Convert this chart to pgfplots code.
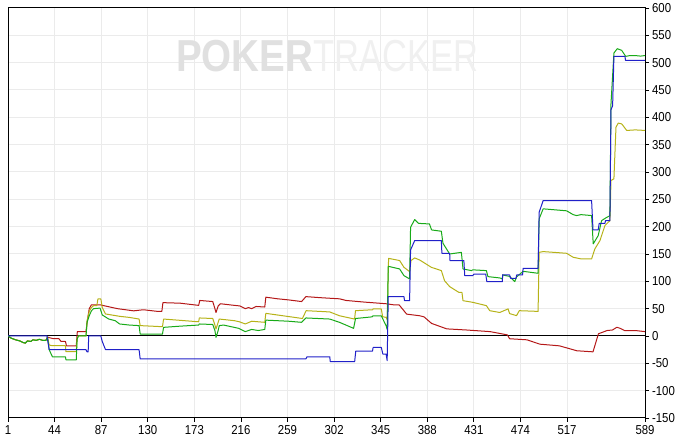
\documentclass[border=0pt]{standalone}
\usepackage{fontspec}
\setmainfont{Liberation Sans}
\usepackage{pgfplots}
\pgfplotsset{compat=1.18}
\usetikzlibrary{calc}
\definecolor{cred}{RGB}{180,24,24}
\definecolor{cblue}{RGB}{32,32,200}
\definecolor{cgreen}{RGB}{24,170,24}
\definecolor{colive}{RGB}{182,178,24}
\begin{document}
\begin{tikzpicture}
\begin{axis}[
  scale only axis, width=637bp, height=410bp,
  xmin=1, xmax=589, ymin=-150, ymax=600,
  xtick={1,44,87,130,173,216,259,302,345,388,431,474,517,589},
  ytick={-150,-100,...,600},
  ytick pos=right, yticklabel pos=right, xtick pos=bottom,
  tick align=outside, major tick length=4bp,
  grid=major, grid style={draw=black!8, line width=1bp},
  axis line style={line width=1bp, black},
  tick style={black, line width=0.8bp},
  tick label style={font=\fontsize{13}{13}\selectfont, xscale=0.88},
  /pgf/number format/assume math mode=true,
  /pgf/number format/1000 sep={},
  every axis plot/.append style={line width=1bp, line join=round, mark=none},
  extra y ticks={0}, extra y tick labels={},
  extra y tick style={grid=major, grid style={black, line width=1bp}, major tick length=0pt},
]
\node[text=black!12, font=\bfseries\fontsize{45}{45}\selectfont, xscale=0.86, anchor=base east, inner sep=0pt] at (axis cs:283,484) {POKER};
\node[text=black!6, font=\fontsize{45}{45}\selectfont, xscale=0.77, anchor=base west, inner sep=0pt] at (axis cs:283,484) {TRACKER};
% red
\addplot[cred] coordinates {(1,0) (4,-4) (8,-7) (12,-9) (15,-12) (17,-13) (19,-9) (22,-10) (24,-7) (27,-8) (30,-6) (33,-8) (36,-8) (37.5,-2) (39,-3) (43,-5) (48,-5) (50,-10) (54,-10) (55,-18) (64,-18) (65,8) (73,8) (74,25) (76,50) (78,57) (86,57) (102,50) (117,46) (126,48) (139,45) (143,45) (144,61) (160,60) (177,56) (178,65) (190,63) (192,50) (193,43) (195,55) (197,59) (210,56) (215,55) (220,50) (223,52) (226,50) (230,54) (238,53) (239,71) (250,68) (260,66) (272,63) (276,72) (290,70) (307,68) (313,65) (330,62) (350,59) (357,57) (362,57) (369,40) (381,37) (385,35) (392,23) (406,13) (424,11) (446,8) (462,2) (464,-5) (480,-7) (492,-15) (510,-18) (526,-27) (541,-29) (546,4) (554,10) (559,11) (563,16) (566,14) (570,10) (580,10) (589,8)};
% olive
\addplot[colive] coordinates {(1,0) (4,-4) (8,-7) (12,-9) (15,-12) (17,-13) (19,-9) (22,-10) (24,-7) (27,-8) (30,-6) (33,-8) (36,-8) (37.5,-2) (39,-16.5) (42,-17.8) (54,-17.8) (54.5,-28.8) (64,-28.8) (64.8,-5) (66,0) (73,0) (74,28) (76,45) (78,52) (80,55.5) (83,55.5) (84,67.8) (86.7,67.8) (88,52) (91,40.3) (104,36) (113,34) (122,31) (123,19) (143.6,17) (144.6,31) (177,26) (177.6,33) (190,32) (192,20) (193,12.8) (195,25) (196,31) (210,28) (214.6,26) (220,22) (226,27) (238,25) (239,41.4) (272.8,32) (276.2,46.3) (298,44) (307,37) (320.9,31) (321.8,46.3) (337.5,48) (338,49.5) (345.6,49.5) (346.8,35.3) (350,34) (351,30) (352.3,142) (362.5,138) (366.5,125.6) (371.7,117.8) (373,138) (376.4,142.8) (381,139) (391.8,125.6) (401,119.6) (404,101) (408.7,90.3) (417,80) (420,80) (421,64.6) (430.2,61.5) (442.6,55.5) (445.7,46.3) (454.9,43) (462.6,49.5) (464,41) (470.4,37.2) (473,46.3) (490.3,45) (491.3,153) (495,154.4) (516.6,151.3) (522.7,144) (530,141) (539.7,141) (542.7,159.3) (547.4,174.5) (552,202) (556.6,211) (557.6,284.4) (560.3,287.6) (562.2,382) (564.3,389.4) (567.5,388) (572.1,376) (580,377) (589,376)};
% green
\addplot[cgreen] coordinates {(1,0) (4,-4) (8,-7) (12,-9) (15,-12) (17,-13) (19,-9) (22,-10) (24,-7) (27,-8) (30,-6) (33,-8) (36,-8) (37.5,-2) (39,-25) (42,-38) (54,-38) (54.5,-43.6) (64,-43.6) (64.8,-5.5) (66,0) (73,0) (74,25) (76,37) (78,46) (80,50) (86,51) (88,38.5) (94,31) (100,28) (104,22) (113,20) (122,19) (123,3.6) (143.6,3.6) (144.6,15.8) (160,18) (177,20) (177.6,22) (190,21) (192,10) (193,-2.5) (195,10) (196,19) (200,20) (214,14) (220,8) (226,12) (232,10) (238,12) (239,29) (260,27) (272,25) (276,33) (298,31) (307,25) (320,14) (321.8,32) (337,35) (338,37) (345.6,37) (347,31) (350,19) (351,12) (352,127.5) (362.5,122.6) (366.5,110.4) (371.7,104.4) (372.6,198.9) (376.4,213) (380,206) (390,205) (392,194) (401,191.6) (402.5,169.6) (408.7,150) (419.5,153) (421,122.6) (428.8,119.6) (430,121) (442.6,119.6) (444,108.6) (454.9,106.2) (457.4,104.4) (457.5,111.7) (464,109) (466,105) (468.8,99.5) (470.4,108) (476.5,118.3) (490.3,114.7) (491.3,214.3) (495,232.6) (516.6,229) (522.7,222) (525.8,220.3) (530,222) (539.7,220.3) (541.2,168.5) (545.8,183.7) (548.9,211) (553.6,217) (556.6,220) (557.6,425) (560.3,517.6) (563.4,525.6) (567.5,522.5) (571.2,511.5) (575,513) (580,513) (585,512) (589,513)};
% blue
\addplot[cblue] coordinates {(1,0) (37,0) (39,-25) (73,-25) (74,-29) (75,-29) (75.5,0) (86.7,0) (88,-10) (91,-25) (122,-25) (123,-42) (276,-42) (277,-38) (298,-38) (298.5,-47) (321,-47) (322,-27.5) (337.5,-27.5) (338,-21) (345.6,-21) (347,-33) (350,-33) (351,-45) (352,72) (366.5,72) (367,64.6) (371.7,64.6) (372.6,157.5) (376.4,174.5) (401,174.5) (401.5,151.3) (408.7,151.3) (409,138) (421.8,138) (422.6,110.4) (430,110.4) (431,113) (442,113) (443,99.5) (457.4,99.5) (457.5,111.7) (464,111.7) (465,105.5) (470,105.5) (470.5,111.7) (476,111.7) (476.5,123.8) (490.3,123.8) (491.3,226.4) (495,247.8) (539.7,247.8) (541,194) (545.8,194) (546.7,206) (552,206) (552.5,211) (556.6,211) (557.6,414) (559.1,421) (560.3,511.5) (570.5,511.5) (571,504) (589,504)};
\end{axis}
\path ($(current axis.south west)+(-8bp,-24bp)$) rectangle ($(current axis.north east)+(40bp,8bp)$);
\end{tikzpicture}
\end{document}
